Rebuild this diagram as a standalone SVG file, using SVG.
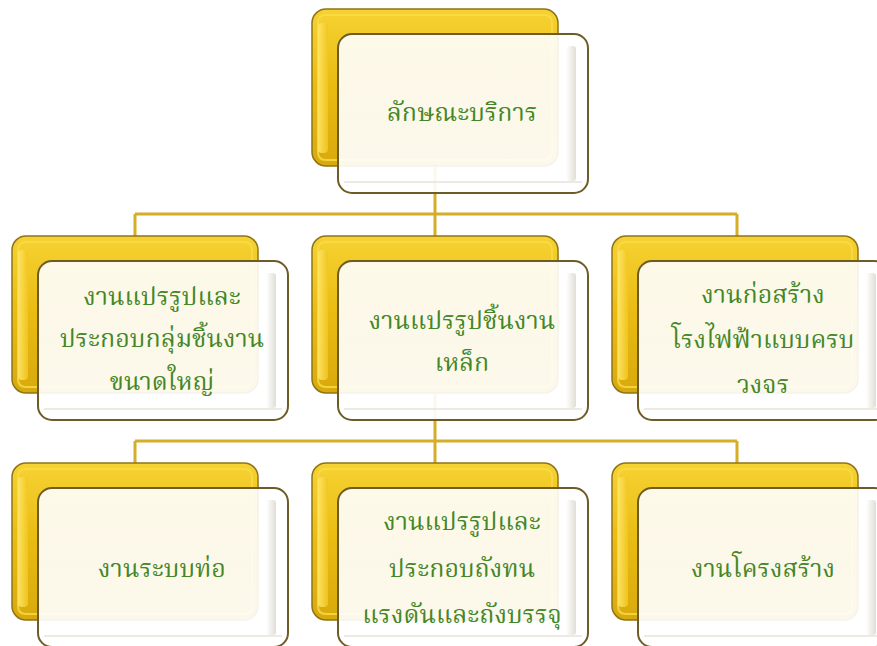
<svg xmlns="http://www.w3.org/2000/svg" width="877" height="646" viewBox="0 0 877 646">
<defs>
<linearGradient id="gold" x1="0" y1="0" x2="0" y2="1">
<stop offset="0" stop-color="#f6d232"/>
<stop offset="0.5" stop-color="#e9bb12"/>
<stop offset="1" stop-color="#d8a90c"/>
</linearGradient>
<linearGradient id="goldL" x1="0" y1="0" x2="1" y2="0">
<stop offset="0" stop-color="#ffe66a"/>
<stop offset="1" stop-color="#f1c51c"/>
</linearGradient>
<linearGradient id="face" x1="0" y1="0" x2="0" y2="1">
<stop offset="0" stop-color="#ffffff" stop-opacity="0.9"/>
<stop offset="1" stop-color="#ffffff" stop-opacity="0.92"/>
</linearGradient>
<linearGradient id="edgeR" x1="0" y1="0" x2="1" y2="0">
<stop offset="0" stop-color="#ffffff"/>
<stop offset="1" stop-color="#d8d6cc"/>
</linearGradient>
<g id="back">
<rect x="0" y="0" width="246" height="157" rx="14" fill="url(#gold)" stroke="#8e7418" stroke-width="1.5"/>
<path d="M6 14 Q6 6 14 6 L232 6 Q240 6 240 14 L240 143 Q240 151 232 151 L14 151 Q6 151 6 143 Z" fill="none" stroke="#f9dc4a" stroke-width="2" opacity="0.8"/>
<rect x="6" y="14" width="10" height="130" rx="4" fill="url(#goldL)" opacity="0.9"/>
</g>
<g id="front">
<rect x="0" y="0" width="250" height="159" rx="14" fill="url(#face)" stroke="#6e5c26" stroke-width="2"/>
<rect x="228" y="12" width="10" height="135" rx="3" fill="url(#edgeR)" opacity="0.8"/>
<path d="M6 148 L244 148" stroke="#e6e3da" stroke-width="1.5"/>
</g>
</defs>
<style>
.t{font-family:"Noto Serif Thai","Noto Sans Thai","Noto Sans","DejaVu Sans",serif;font-size:25px;fill:#438728;text-anchor:middle}
.c{fill:none;stroke:#d6ad28;stroke-width:3}
</style>
<rect width="877" height="646" fill="#ffffff"/>
<g id="connectors">
<path class="c" d="M435 165 V214 M135 214 H737 M135 214 V236 M435 214 V236 M737 214 V236"/>
<path class="c" d="M435 393 V441 M135 441 H737 M135 441 V463 M435 441 V463 M737 441 V463"/>
</g>
<g id="n0">
<use href="#back" x="312" y="9"/>
<use href="#front" x="338" y="34"/>
<text class="t" x="462" y="121">ลักษณะบริการ</text>
</g>
<g id="n1">
<use href="#back" x="12" y="236"/>
<use href="#front" x="38" y="261"/>
<text class="t" x="162" y="305">งานแปรรูปและ</text>
<text class="t" x="162" y="347">ประกอบกลุ่มชิ้นงาน</text>
<text class="t" x="162" y="390">ขนาดใหญ่</text>
</g>
<g id="n2">
<use href="#back" x="312" y="236"/>
<use href="#front" x="338" y="261"/>
<text class="t" x="462" y="329">งานแปรรูปชิ้นงาน</text>
<text class="t" x="462" y="371">เหล็ก</text>
</g>
<g id="n3">
<use href="#back" x="612" y="236"/>
<use href="#front" x="638" y="261"/>
<text class="t" x="763" y="303">งานก่อสร้าง</text>
<text class="t" x="763" y="348">โรงไฟฟ้าแบบครบ</text>
<text class="t" x="763" y="393">วงจร</text>
</g>
<g id="n4">
<use href="#back" x="12" y="463"/>
<use href="#front" x="38" y="488"/>
<text class="t" x="162" y="577">งานระบบท่อ</text>
</g>
<g id="n5">
<use href="#back" x="312" y="463"/>
<use href="#front" x="338" y="488"/>
<text class="t" x="462" y="530">งานแปรรูปและ</text>
<text class="t" x="462" y="577">ประกอบถังทน</text>
<text class="t" x="462" y="623">แรงดันและถังบรรจุ</text>
</g>
<g id="n6">
<use href="#back" x="612" y="463"/>
<use href="#front" x="638" y="488"/>
<text class="t" x="763" y="577">งานโครงสร้าง</text>
</g>
</svg>
